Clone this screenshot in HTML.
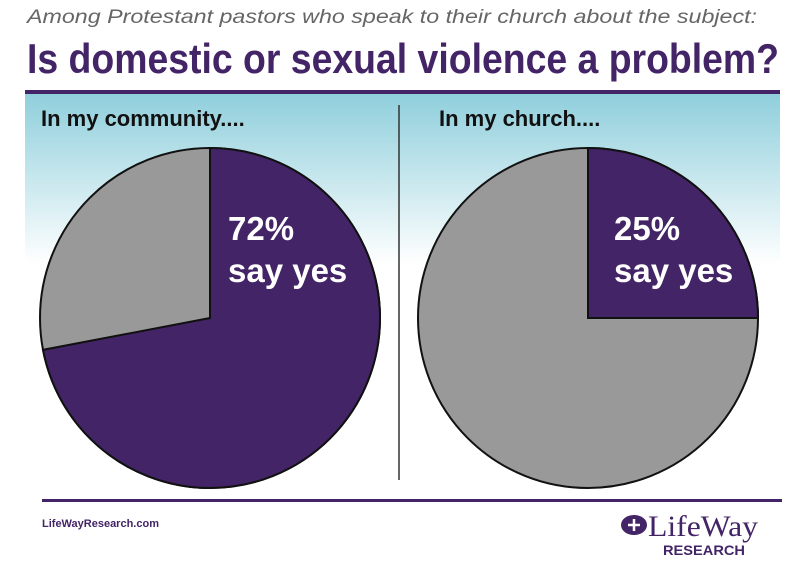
<!DOCTYPE html>
<html><head><meta charset="utf-8"><style>
body{margin:0;width:800px;height:566px;overflow:hidden;background:#fff;font-family:"Liberation Sans",sans-serif}
</style></head><body>
<svg width="800" height="566">
<defs><linearGradient id="g" x1="0" y1="0" x2="0" y2="1">
<stop offset="0" stop-color="#8fcfdc"/><stop offset="1" stop-color="#ffffff"/></linearGradient></defs>
<text x="27" y="23" font-size="19" font-style="italic" fill="#666" textLength="730" lengthAdjust="spacingAndGlyphs">Among Protestant pastors who speak to their church about the subject:</text>
<text x="27" y="73" font-size="42" font-weight="bold" fill="#432466" font-family="Liberation Sans Narrow, Liberation Sans, sans-serif" textLength="752" lengthAdjust="spacingAndGlyphs">Is domestic or sexual violence a problem?</text>
<rect x="25" y="90" width="755" height="4" fill="#432466"/>
<rect x="25" y="94" width="755" height="170" fill="url(#g)"/>
<line x1="399" y1="105" x2="399" y2="480" stroke="#333" stroke-width="1.5"/>
<text x="41" y="126" font-size="22" font-weight="bold" fill="#111" font-family="Liberation Sans Narrow, Liberation Sans, sans-serif">In my community....</text>
<text x="439" y="126" font-size="22" font-weight="bold" fill="#111" font-family="Liberation Sans Narrow, Liberation Sans, sans-serif">In my church....</text>
<g id="pies"></g>
<text x="228" y="240" font-size="33" font-weight="bold" fill="#fff">72%</text>
<text x="228" y="282" font-size="33" font-weight="bold" fill="#fff">say yes</text>
<text x="614" y="240" font-size="33" font-weight="bold" fill="#fff">25%</text>
<text x="614" y="282" font-size="33" font-weight="bold" fill="#fff">say yes</text>
<rect x="42" y="499" width="740" height="3" fill="#432466"/>
<text x="42" y="527" font-size="11" font-weight="bold" fill="#432466">LifeWayResearch.com</text>
<g>
<ellipse cx="634" cy="525" rx="13" ry="10" fill="#432466"/>
<path d="M628 525 h12 M634 519 v12" stroke="#fff" stroke-width="2.5"/>
<text x="648" y="536" font-size="30" fill="#432466" font-family="Liberation Serif,serif" textLength="110" lengthAdjust="spacingAndGlyphs">LifeWay</text>
<text x="663" y="555" font-size="14" font-weight="bold" fill="#432466" textLength="82" lengthAdjust="spacingAndGlyphs">RESEARCH</text>
</g>
</svg>
<script>
const pieNames=['community','church'];
const yesValues=[72,25];
const centersX=[210,588], cy=318, r=170;
const g=document.getElementById('pies');
function pt(cx,f){const a=f*2*Math.PI;return [cx+r*Math.sin(a),cy-r*Math.cos(a)];}
pieNames.forEach((n,i)=>{
  const cx=centersX[i], f=yesValues[i]/100;
  const bg=document.createElementNS('http://www.w3.org/2000/svg','circle');
  bg.setAttribute('cx',cx);bg.setAttribute('cy',cy);bg.setAttribute('r',r);
  bg.setAttribute('fill','#999');bg.setAttribute('stroke','#111');bg.setAttribute('stroke-width','2');
  
  
  g.appendChild(bg);
  const [x,y]=pt(cx,f);
  const p=document.createElementNS('http://www.w3.org/2000/svg','path');
  p.setAttribute('d',`M${cx} ${cy} L${cx} ${cy-r} A${r} ${r} 0 ${f>0.5?1:0} 1 ${x} ${y} Z`);
  p.setAttribute('fill','#432466');p.setAttribute('stroke','#111');p.setAttribute('stroke-width','2');
  
  
  g.appendChild(p);
});
</script>
</body></html>
